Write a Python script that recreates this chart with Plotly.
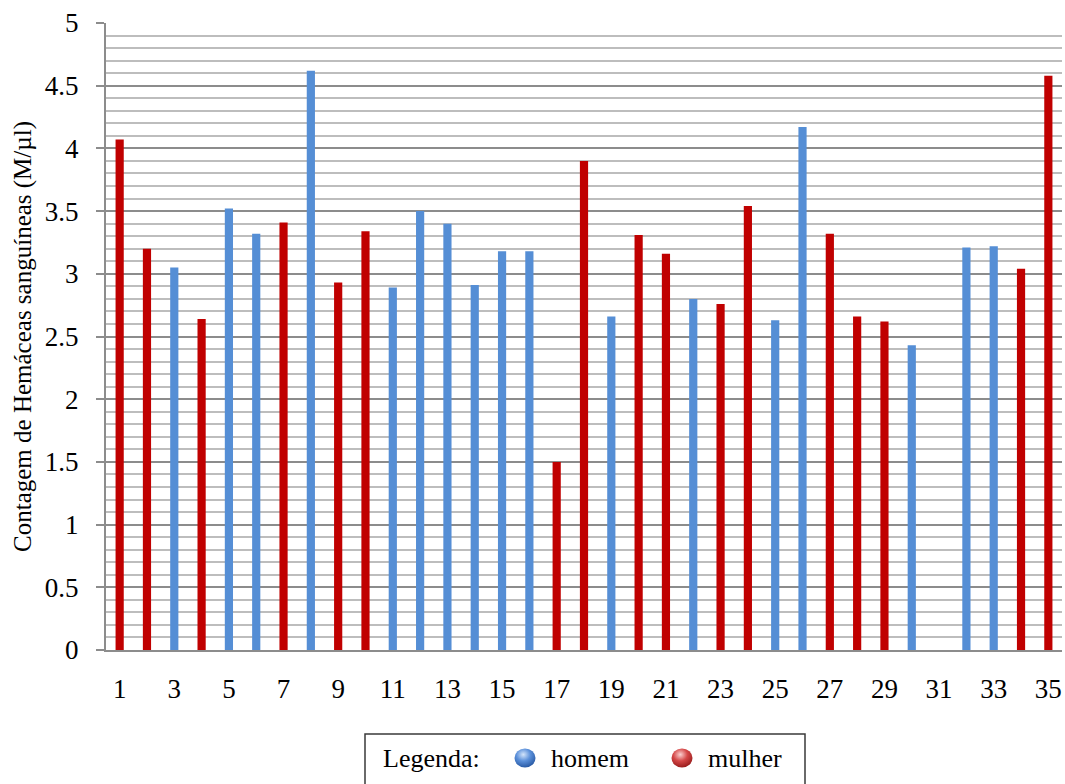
import base64
import plotly.graph_objects as go

# Red blood cell counts per individual (M/µl); None = no measurement
individuos = list(range(1, 36))
contagem = [4.07, 3.20, 3.05, 2.64, 3.52, 3.32, 3.41, 4.62, 2.93, 3.34,
            2.89, 3.50, 3.40, 2.91, 3.18, 3.18, 1.50, 3.90, 2.66, 3.31,
            3.16, 2.80, 2.76, 3.54, 2.63, 4.17, 3.32, 2.66, 2.62, 2.43,
            None, 3.21, 3.22, 3.04, 4.58]
sexo = ["M", "M", "H", "M", "H", "H", "M", "H", "M", "M",
        "H", "H", "H", "H", "H", "H", "M", "M", "H", "M",
        "M", "H", "M", "M", "H", "H", "M", "M", "M", "H",
        "H", "H", "H", "M", "M"]
x_ticks = list(range(1, 36, 2))

# code, legend label, bar colour, sphere highlight / mid / shadow
grupos = [("H", "homem", "#558ed5", ("#d3e4fa", "#5b90da", "#1f4f9a")),
          ("M", "mulher", "#c00000", ("#fbd0d0", "#d54848", "#8e1414"))]

SERIF = "Liberation Serif"
W, H = 1065, 784
M_L, M_R, M_T, M_B = 106, 3, 23, 134
PW, PH = W - M_L - M_R, H - M_T - M_B


def px_x(p):
    return (p - M_L) / PW


def px_y(p):
    return (H - M_B - p) / PH


def sphere_uri(stops):
    hi, mid, lo = stops
    svg = (
        '<svg xmlns="http://www.w3.org/2000/svg" width="44" height="40" viewBox="0 0 44 40">'
        '<defs><radialGradient id="g" cx="0.42" cy="0.32" r="0.75">'
        f'<stop offset="0" stop-color="{hi}"/><stop offset="0.45" stop-color="{mid}"/>'
        f'<stop offset="1" stop-color="{lo}"/></radialGradient></defs>'
        '<ellipse cx="22" cy="20" rx="21" ry="19" fill="url(#g)"/></svg>'
    )
    return "data:image/svg+xml;base64," + base64.b64encode(svg.encode()).decode()


fig = go.Figure()
for cod, nome, cor, _ in grupos:
    ys = [v if s == cod else None for v, s in zip(contagem, sexo)]
    fig.add_trace(go.Bar(x=individuos, y=ys, name=nome, marker_color=cor,
                         marker_line_width=0, width=0.3,
                         showlegend=False, hoverinfo="x+y"))

# boxed legend below the plot
leg_y = 758
fig.add_shape(type="rect", xref="paper", yref="paper",
              x0=px_x(365), x1=px_x(805), y0=px_y(795), y1=px_y(734),
              line=dict(color="#3a3a3a", width=1.5), fillcolor="rgba(0,0,0,0)",
              layer="below")
fig.add_annotation(text="Legenda:", xref="paper", yref="paper",
                   x=px_x(381), y=px_y(leg_y), xanchor="left", yanchor="middle",
                   showarrow=False, font=dict(family=SERIF, size=26, color="black"))
for (cod, nome, cor, stops), sx, tx in zip(grupos, (525, 682), (549, 706)):
    fig.add_layout_image(source=sphere_uri(stops), xref="paper", yref="paper",
                         x=px_x(sx), y=px_y(leg_y), sizex=22 / PW, sizey=20 / PH,
                         xanchor="center", yanchor="middle", sizing="stretch",
                         layer="above")
    fig.add_annotation(text=nome, xref="paper", yref="paper",
                       x=px_x(tx), y=px_y(leg_y), xanchor="left", yanchor="middle",
                       showarrow=False, font=dict(family=SERIF, size=26, color="black"))

fig.update_layout(
    width=W, height=H,
    margin=dict(l=M_L, r=M_R, t=M_T, b=M_B),
    paper_bgcolor="white", plot_bgcolor="white",
    barmode="overlay",
    font=dict(family=SERIF, size=26, color="black"),
    showlegend=False,
    xaxis=dict(
        range=[0.5, 35.5], tickmode="array", tickvals=x_ticks,
        ticktext=[str(t) for t in x_ticks], showgrid=False,
        showline=True, linecolor="#8c8c8c", linewidth=2, ticks="",
        tickfont=dict(family=SERIF, size=27, color="black"),
        ticklabelstandoff=14, zeroline=False, fixedrange=True,
    ),
    yaxis=dict(
        range=[0, 5], dtick=0.5, tickformat="~g",
        tickfont=dict(family=SERIF, size=27, color="black"),
        showgrid=True, gridcolor="#8c8c8c", gridwidth=1.5,
        minor=dict(dtick=0.1, showgrid=True, gridcolor="#bdbdbd", gridwidth=1.5),
        showline=True, linecolor="#8c8c8c", linewidth=2,
        ticks="outside", ticklen=8, tickcolor="#8c8c8c", tickwidth=2,
        ticklabelstandoff=12,
        zeroline=False, fixedrange=True,
        title=dict(text="Contagem de Hemáceas sanguíneas (M/µl)",
                   font=dict(family=SERIF, size=25, color="black"), standoff=6),
    ),
)

fig.write_html("out.html")
